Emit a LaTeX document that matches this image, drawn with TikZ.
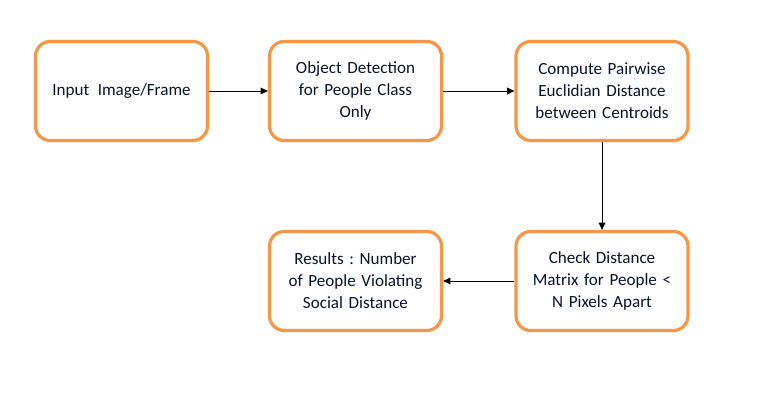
\documentclass[tikz,border=0pt]{standalone}
\usepackage{fontspec}
\setmainfont{Carlito}
\frenchspacing
\usetikzlibrary{arrows.meta}
\definecolor{boxorange}{HTML}{F79646}
\definecolor{txtnavy}{HTML}{0A1428}
\begin{document}
\begin{tikzpicture}[x=0.75pt,y=-0.75pt,
  stepbox/.style={draw=boxorange, line width=2.4pt, rounded corners=11pt, fill=white,
    minimum width=172*0.75pt, minimum height=99*0.75pt, inner sep=0pt,
    align=center, text width=166*0.75pt, text=txtnavy,
    font=\fontsize{12.8pt}{16.5pt}\selectfont},
  conn/.style={draw=black, line width=0.75pt, -{Triangle[length=5.5pt,width=5pt]}}]
\useasboundingbox (0,0) rectangle (772,414);
\node[stepbox] (b1) at (121.5,91) {Input\, Image/Frame};
\node[stepbox] (b2) at (355.5,91) {Object Detection\\ for People Class\\ Only};
\node[stepbox] (b3) at (602,91) {Compute Pairwise\\ Euclidian Distance\\ between Centroids};
\node[stepbox] (b4) at (602,281) {Check Distance\\ Matrix for People <\\ N Pixels Apart};
\node[stepbox] (b5) at (355.5,281) {Results : Number\\ of People Violating\\ Social Distance};
\draw[conn] (b1) -- (b2);
\draw[conn] (b2) -- (b3);
\draw[conn] (b3) -- (b4);
\draw[conn] (b4) -- (b5);
\end{tikzpicture}
\end{document}
